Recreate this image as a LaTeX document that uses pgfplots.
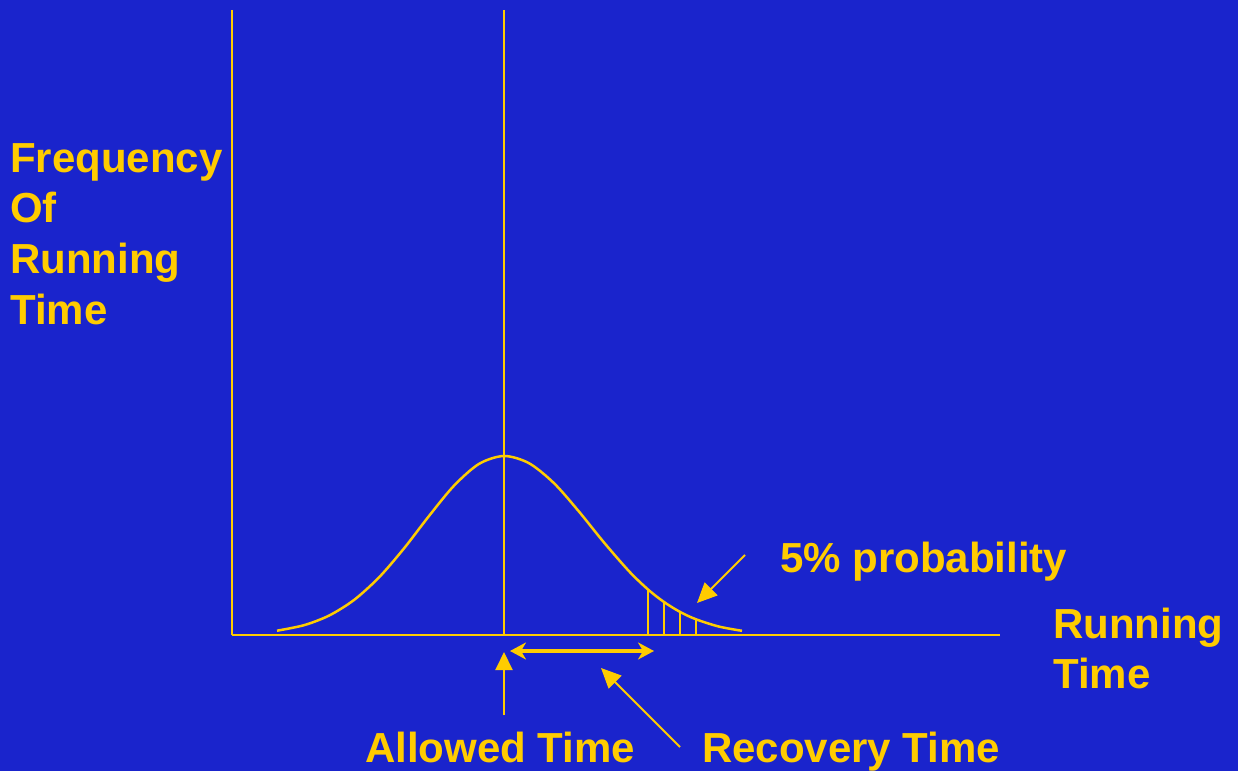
\documentclass[border=0pt]{standalone}
\usepackage{pgfplots}
\pgfplotsset{compat=1.18}
\usepackage{fontspec}
\setmainfont{Liberation Sans}
\usetikzlibrary{arrows.meta}
\definecolor{bg}{RGB}{26,36,204}
\definecolor{yl}{RGB}{255,204,0}
\begin{document}
\begin{tikzpicture}
\begin{axis}[scale only axis, width=1238pt, height=771pt,
  xmin=0, xmax=1238, ymin=0, ymax=771, hide axis, clip=false]
\fill[bg] (axis cs:0,0) rectangle (axis cs:1238,771);
% axes
\addplot[yl, line width=2.5pt, mark=none] coordinates {(232,761) (232,136)};
\addplot[yl, line width=2.5pt, mark=none] coordinates {(232,136) (1000,136)};
\addplot[yl, line width=2pt, mark=none] coordinates {(504,761) (504,136)};
% bell curve
\addplot[yl, line width=2.5pt, mark=none, smooth] coordinates {
(277,140.3) (304,145.8) (329,155.4) (354,171.0) (379,193.6) (404,222.6)
(429,255.0) (454,285.3) (479,307.1) (504,315.0) (529,307.8) (554,287.8)
(579,259.4) (604,228.5) (629,199.8) (648,181.5) (664,169.0) (680,159.1)
(696,151.7) (719,144.4) (742,140.2)};
% hatching
\addplot[yl, line width=2pt, mark=none] coordinates {(648,136) (648,181.5)};
\addplot[yl, line width=2pt, mark=none] coordinates {(664,136) (664,169.0)};
\addplot[yl, line width=2pt, mark=none] coordinates {(680,136) (680,159.1)};
\addplot[yl, line width=2pt, mark=none] coordinates {(696,136) (696,151.7)};
% arrows
\draw[yl, line width=2pt, -{Triangle[width=17pt,length=18pt]}] (axis cs:504,56) -- (axis cs:504,119);
\draw[yl, line width=4pt, {Stealth[width=17pt,length=16pt,inset=5pt]}-{Stealth[width=17pt,length=16pt,inset=5pt]}] (axis cs:510,120) -- (axis cs:654,120);
\draw[yl, line width=2pt, -{Triangle[width=18pt,length=20pt]}] (axis cs:680,24) -- (axis cs:601,103);
\draw[yl, line width=2pt, -{Triangle[width=18pt,length=20pt]}] (axis cs:745,216) -- (axis cs:697,168);
% texts
\begin{scope}[every node/.style={text=yl, inner sep=0pt, anchor=base west, font=\fontsize{42}{50}\selectfont\bfseries}]
\node at (axis cs:10,598) {Frequency};
\node at (axis cs:10,548) {Of};
\node at (axis cs:10,497) {Running};
\node at (axis cs:10,446) {Time};
\node at (axis cs:1053,133) {Running};
\node at (axis cs:1053,83) {Time};
\node at (axis cs:780,199) {5\% probability};
\node at (axis cs:365,9) {Allowed Time};
\node at (axis cs:702,9) {Recovery Time};
\end{scope}
\end{axis}
\pgfresetboundingbox
\path[use as bounding box] (0,0) rectangle (1238pt,771pt);
\end{tikzpicture}
\end{document}
